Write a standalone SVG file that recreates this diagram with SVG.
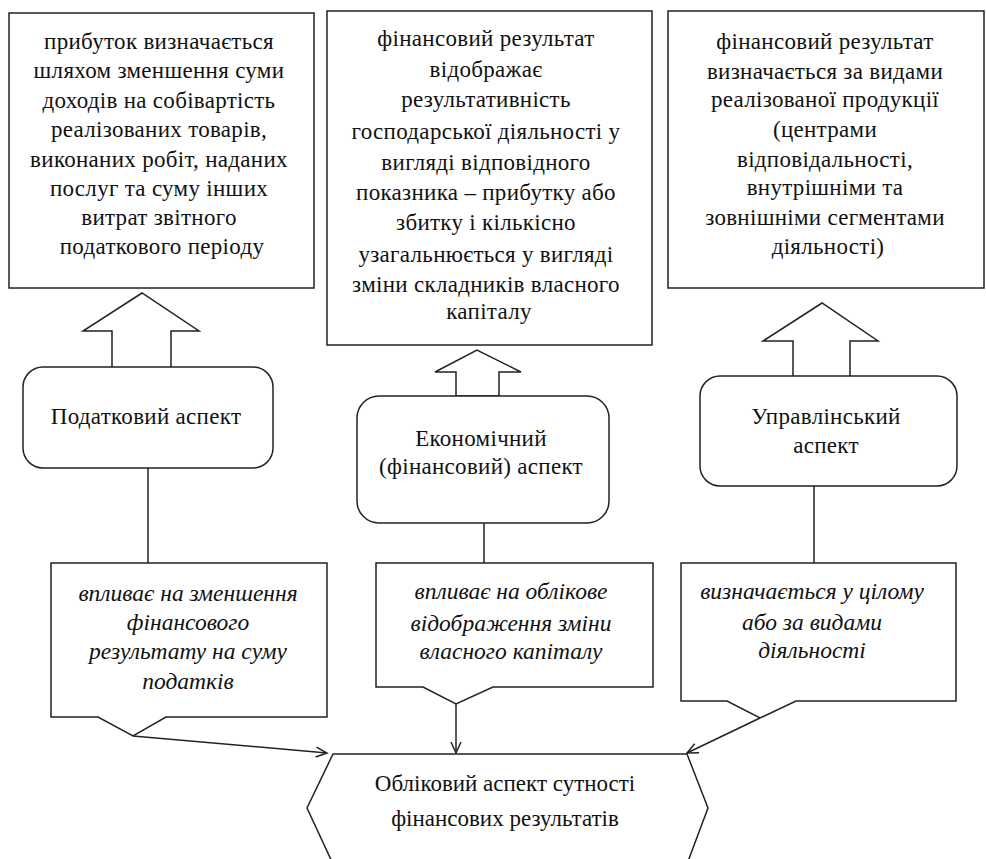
<svg xmlns="http://www.w3.org/2000/svg" width="986" height="859" viewBox="0 0 986 859">
<style>
  .box{fill:#fff;stroke:#222;stroke-width:1.5}
  .barrow{fill:#fff;stroke:#222;stroke-width:1.5}
  .ln{fill:none;stroke:#222;stroke-width:1.5}
</style>
<defs>
  <marker id="ah" markerWidth="14" markerHeight="14" refX="12" refY="6" orient="auto" markerUnits="userSpaceOnUse">
    <path d="M1,1 L12,6 L1,11" fill="none" stroke="#222" stroke-width="1.5"/>
  </marker>
</defs>
<rect width="986" height="859" fill="#fff"/>

<g font-family="Liberation Serif, Times New Roman, serif" font-size="23" letter-spacing="0.3" fill="#111" text-anchor="middle">
<g id="top1">
  <rect class="box" x="9" y="13" width="305" height="275"/>
  <text>
    <tspan x="162" y="49">прибуток визначається</tspan>
    <tspan x="162" y="78">шляхом зменшення суми</tspan>
    <tspan x="162" y="108">доходів на собівартість</tspan>
    <tspan x="162" y="137">реалізованих товарів,</tspan>
    <tspan x="162" y="167">виконаних робіт, наданих</tspan>
    <tspan x="162" y="196">послуг та суму інших</tspan>
    <tspan x="162" y="225">витрат звітного</tspan>
    <tspan x="162" y="254">податкового періоду</tspan>
  </text>
</g>

<g id="top2">
  <rect class="box" x="327" y="11" width="325" height="334"/>
  <text>
    <tspan x="489" y="46">фінансовий результат</tspan>
    <tspan x="489" y="77">відображає</tspan>
    <tspan x="489" y="107">результативність</tspan>
    <tspan x="489" y="139">господарської діяльності у</tspan>
    <tspan x="489" y="170">вигляді відповідного</tspan>
    <tspan x="489" y="200">показника – прибутку або</tspan>
    <tspan x="489" y="230">збитку і кількісно</tspan>
    <tspan x="489" y="262">узагальнюється у вигляді</tspan>
    <tspan x="489" y="292">зміни складників власного</tspan>
    <tspan x="489" y="319">капіталу</tspan>
  </text>
</g>

<g id="top3">
  <rect class="box" x="668" y="11" width="316" height="277"/>
  <text>
    <tspan x="828" y="49">фінансовий результат</tspan>
    <tspan x="828" y="79">визначається за видами</tspan>
    <tspan x="828" y="107">реалізованої продукції</tspan>
    <tspan x="828" y="137">(центрами</tspan>
    <tspan x="828" y="167">відповідальності,</tspan>
    <tspan x="828" y="195">внутрішніми та</tspan>
    <tspan x="828" y="225">зовнішніми сегментами</tspan>
    <tspan x="828" y="254">діяльності)</tspan>
  </text>
</g>

<g id="barrow1">
  <path class="barrow" d="M112,367 L112,331 L83,331 L142,293 L199,331 L171,331 L171,367"/>
</g>
<g id="barrow2">
  <path class="barrow" d="M456,396 L456,372 L435,372 L477,350 L521,372 L499,372 L499,396 Z"/>
</g>
<g id="barrow3">
  <path class="barrow" d="M793,376 L793,341 L763,341 L822,303 L878,341 L850,341 L850,376"/>
</g>

<g id="aspect1">
  <rect class="box" x="23" y="367" width="250" height="101" rx="20" ry="20"/>
  <text x="146" y="424">Податковий аспект</text>
</g>
<g id="aspect2">
  <rect class="box" x="357" y="396" width="252" height="127" rx="22" ry="22"/>
  <text><tspan x="481" y="446">Економічний</tspan><tspan x="481" y="474">(фінансовий) аспект</tspan></text>
</g>
<g id="aspect3">
  <rect class="box" x="700" y="376" width="257" height="110" rx="20" ry="20"/>
  <text><tspan x="826" y="424">Управлінський</tspan><tspan x="826" y="453">аспект</tspan></text>
</g>

<g id="callout1">
  <path class="box" d="M51,563 L327,563 L327,717 L166,717 L133,736 L98,717 L51,717 Z"/>
  <text font-style="italic" font-size="23.5" letter-spacing="0"><tspan x="188" y="601">впливає на зменшення</tspan><tspan x="188" y="630">фінансового</tspan><tspan x="188" y="659">результату на суму</tspan><tspan x="188" y="689">податків</tspan></text>
</g>
<g id="callout2">
  <path class="box" d="M376,563 L653,563 L653,687 L493,687 L456,704 L423,687 L376,687 Z"/>
  <text font-style="italic" font-size="23.5" letter-spacing="0"><tspan x="511" y="599">впливає на облікове</tspan><tspan x="511" y="631">відображення зміни</tspan><tspan x="511" y="659">власного капіталу</tspan></text>
</g>
<g id="callout3">
  <path class="box" d="M681,563 L956,563 L956,701 L796,701 L760,718 L727,701 L681,701 Z"/>
  <text font-style="italic" font-size="23.5" letter-spacing="0"><tspan x="812" y="599">визначається у цілому</tspan><tspan x="812" y="630">або за видами</tspan><tspan x="812" y="658">діяльності</tspan></text>
</g>

<g id="result">
  <path class="box" d="M333,754 L687,754 L708,808 L687,864 L333,864 L307,808 Z"/>
  <text letter-spacing="0"><tspan x="505" y="791">Обліковий аспект сутності</tspan><tspan x="505" y="826">фінансових результатів</tspan></text>
</g>
</g>

<g id="connectors">
  <line class="ln" x1="148" y1="468" x2="148" y2="563"/>
  <line class="ln" x1="484" y1="523" x2="484" y2="563"/>
  <line class="ln" x1="814" y1="486" x2="814" y2="563"/>
  <line class="ln" x1="133" y1="736" x2="327" y2="753" marker-end="url(#ah)"/>
  <line class="ln" x1="456" y1="704" x2="456" y2="753" marker-end="url(#ah)"/>
  <line class="ln" x1="760" y1="718" x2="687" y2="753" marker-end="url(#ah)"/>
</g>
</svg>
